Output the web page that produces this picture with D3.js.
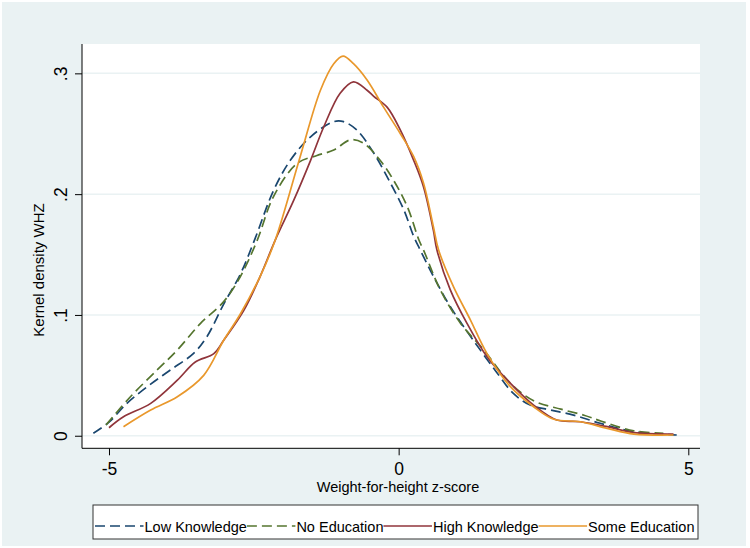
<!DOCTYPE html>
<html>
<head>
<meta charset="utf-8">
<script src="https://cdn.jsdelivr.net/npm/d3@7"></script>
<style>
  html, body { margin: 0; padding: 0; background: #ffffff; }
  svg { display: block; font-family: "Liberation Sans", Arial, sans-serif; }
</style>
</head>
<body>
<svg id="chart" width="750" height="548"></svg>
<script>
// ---- data ----
const seriesNames = ["Low Knowledge", "No Education", "High Knowledge", "Some Education"];

const lowKnowledgeX = [-5.27, -5.01, -4.69, -4.34, -3.94, -3.54, -3.31, -3.02, -2.73, -2.48, -2.16, -1.87, -1.52, -1.12, -0.95, -0.72, -0.43, -0.14, 0.09, 0.26, 0.37, 0.60, 0.89, 1.29, 1.70, 1.98, 2.27, 2.62, 3.02, 3.48, 4.06, 4.80];
const lowKnowledgeY = [0.002, 0.0108, 0.0268, 0.0406, 0.0544, 0.0682, 0.082, 0.109, 0.134, 0.163, 0.203, 0.228, 0.2475, 0.260, 0.260, 0.253, 0.234, 0.209, 0.187, 0.165, 0.154, 0.132, 0.107, 0.079, 0.052, 0.035, 0.0254, 0.0213, 0.0171, 0.0103, 0.0033, 0.0006];

const noEducationX = [-5.05, -4.63, -4.17, -3.82, -3.42, -3.02, -2.73, -2.44, -2.16, -1.75, -1.41, -1.12, -0.83, -0.60, -0.32, -0.09, 0.15, 0.35, 0.43, 0.72, 1.07, 1.47, 1.93, 2.33, 2.80, 3.20, 3.50, 4.06, 4.57];
const noEducationY = [0.009, 0.0323, 0.0544, 0.071, 0.093, 0.111, 0.132, 0.162, 0.198, 0.2255, 0.232, 0.2365, 0.245, 0.242, 0.228, 0.2117, 0.1896, 0.162, 0.1537, 0.1206, 0.093, 0.071, 0.0434, 0.029, 0.022, 0.017, 0.012, 0.004, 0.002];

const highKnowledgeX = [-5.00, -4.75, -4.28, -3.82, -3.51, -3.19, -3.02, -2.67, -2.39, -2.13, -1.81, -1.52, -1.29, -1.01, -0.78, -0.545, -0.43, -0.20, 0.03, 0.26, 0.43, 0.60, 0.66, 0.89, 1.18, 1.525, 1.93, 2.33, 2.73, 3.135, 3.60, 4.06, 4.745];
const highKnowledgeY = [0.0066, 0.0157, 0.0268, 0.046, 0.061, 0.068, 0.079, 0.104, 0.132, 0.162, 0.195, 0.228, 0.256, 0.2835, 0.293, 0.286, 0.281, 0.272, 0.253, 0.228, 0.206, 0.170, 0.154, 0.121, 0.093, 0.0654, 0.0434, 0.0254, 0.013, 0.0116, 0.0075, 0.0025, 0.0014];

const someEducationX = [-4.75, -4.28, -3.82, -3.365, -3.02, -2.73, -2.39, -2.13, -1.70, -1.35, -1.12, -0.96, -0.78, -0.545, -0.26, 0.03, 0.26, 0.43, 0.60, 0.69, 0.95, 1.24, 1.525, 1.93, 2.33, 2.68, 3.135, 3.60, 4.06, 4.745];
const someEducationY = [0.0075, 0.0213, 0.0323, 0.050, 0.079, 0.101, 0.132, 0.162, 0.231, 0.286, 0.308, 0.3143, 0.308, 0.2945, 0.272, 0.250, 0.231, 0.209, 0.173, 0.1537, 0.123, 0.0958, 0.068, 0.0406, 0.024, 0.0136, 0.0116, 0.0061, 0.0014, 0.0006];

const xTicks = [-5, 0, 5];
const xTickLabels = ["-5", "0", "5"];
const yTicks = [0, 0.1, 0.2, 0.3];
const yTickLabels = ["0", ".1", ".2", ".3"];
const xTitle = "Weight-for-height z-score";
const yTitle = "Kernel density WHZ";

// ---- styles ----
const colors = ["#1a476f", "#55752f", "#90353b", "#e9982c"];
const dashes = ["10,5", "10,5", null, null];

const xs = [lowKnowledgeX, noEducationX, highKnowledgeX, someEducationX];
const ys = [lowKnowledgeY, noEducationY, highKnowledgeY, someEducationY];
const series = seriesNames.map((name, i) => ({
  name, color: colors[i], dash: dashes[i],
  values: xs[i].map((x, j) => ({ x, y: ys[i][j] }))
}));

// ---- layout ----
const W = 750, H = 548;
const plot = { left: 82, right: 700, top: 44, bottom: 448.3 };
const bg = "#eaf2f3";

const svg = d3.select("#chart");
svg.append("rect").attr("x", 2).attr("y", 2).attr("width", W - 6).attr("height", H - 4).attr("fill", bg);
svg.append("rect").attr("x", plot.left).attr("y", plot.top)
  .attr("width", plot.right - plot.left).attr("height", plot.bottom - plot.top).attr("fill", "#ffffff");

const x = d3.scaleLinear().domain([-5.466, 5.202]).range([plot.left, plot.right]);
const y = d3.scaleLinear().domain([-0.0104, 0.3243]).range([plot.bottom, plot.top]);

// gridlines
svg.append("g").selectAll("line").data(yTicks).join("line")
  .attr("x1", plot.left).attr("x2", plot.right)
  .attr("y1", d => y(d)).attr("y2", d => y(d))
  .attr("stroke", bg).attr("stroke-width", 1.5);

// lines
const line = d3.line().x(d => x(d.x)).y(d => y(d.y)).curve(d3.curveCatmullRom.alpha(0.5));
const clipId = "plotclip";
svg.append("clipPath").attr("id", clipId).append("rect")
  .attr("x", plot.left).attr("y", plot.top).attr("width", plot.right - plot.left).attr("height", plot.bottom - plot.top);
svg.append("g").attr("clip-path", `url(#${clipId})`)
  .selectAll("path").data(series).join("path")
  .attr("d", d => line(d.values))
  .attr("fill", "none")
  .attr("stroke", d => d.color)
  .attr("stroke-width", 1.7)
  .attr("stroke-dasharray", d => d.dash)
  .attr("stroke-linejoin", "round");

// axes
const yAxis = d3.axisLeft(y).tickValues(yTicks).tickFormat((d, i) => yTickLabels[i]).tickSize(7).tickSizeOuter(0);
const gy = svg.append("g").attr("transform", `translate(${plot.left},0)`).call(yAxis);
gy.select(".domain").attr("d", `M0,${plot.top}V${plot.bottom}`).attr("stroke", "#000");
gy.selectAll(".tick line").attr("stroke", "#000");
gy.selectAll(".tick text")
  .attr("font-size", 17.5).attr("fill", "#000")
  .attr("x", null).attr("dy", null)
  .attr("text-anchor", "middle")
  .attr("transform", "translate(-15,0) rotate(-90)")
  .attr("y", 0);

const xAxis = d3.axisBottom(x).tickValues(xTicks).tickFormat((d, i) => xTickLabels[i]).tickSize(7).tickSizeOuter(0);
const gx = svg.append("g").attr("transform", `translate(0,${plot.bottom})`).call(xAxis);
gx.select(".domain").attr("d", `M${plot.left},0H${plot.right}`).attr("stroke", "#000");
gx.selectAll(".tick line").attr("stroke", "#000");
gx.selectAll(".tick text").attr("font-size", 17.5).attr("fill", "#000").attr("dy", null).attr("y", 26.5);
svg.selectAll(".domain").attr("stroke-width", 1);

// titles
svg.append("text").attr("x", 398).attr("y", 491.5).attr("text-anchor", "middle")
  .attr("font-size", 14.5).attr("fill", "#000").text(xTitle);
svg.append("text").attr("transform", "translate(43.5,270) rotate(-90)").attr("text-anchor", "middle")
  .attr("font-size", 15).attr("fill", "#000").text(yTitle);

// legend
const leg = svg.append("g");
leg.append("rect").attr("x", 93).attr("y", 505).attr("width", 605).attr("height", 34)
  .attr("fill", "#fff").attr("stroke", "#333").attr("stroke-width", 1);
let cx = 95;
const symLen = 48.5, baseY = 531.5, symY = 526;
series.forEach(s => {
  leg.append("line").attr("x1", cx).attr("x2", cx + symLen).attr("y1", symY).attr("y2", symY)
    .attr("stroke", s.color).attr("stroke-width", 1.7).attr("stroke-dasharray", s.dash);
  const t = leg.append("text").attr("x", cx + symLen + 1).attr("y", baseY)
    .attr("font-size", 14.5).attr("fill", "#000").text(s.name);
  cx = cx + symLen + 1 + t.node().getComputedTextLength();
});
</script>
</body>
</html>
